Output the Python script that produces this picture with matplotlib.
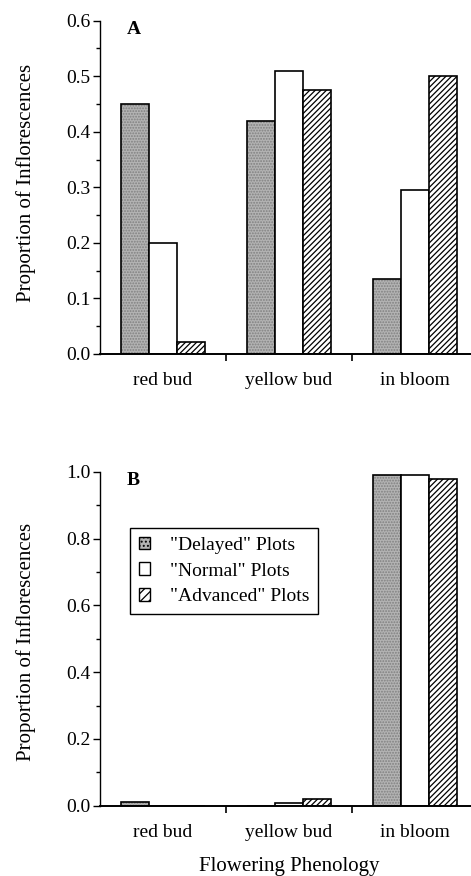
import matplotlib
matplotlib.use("Agg")
import matplotlib.pyplot as plt
import numpy as np
from matplotlib.patches import Patch
from matplotlib.ticker import MultipleLocator, FixedLocator, NullFormatter

plt.rcParams["font.family"] = ["Liberation Serif", "DejaVu Serif"]
plt.rcParams["hatch.linewidth"] = 0.9

categories = ["red bud", "yellow bud", "in bloom"]
series_names = ['"Delayed" Plots', '"Normal" Plots', '"Advanced" Plots']

# panel A
a_delayed = [0.45, 0.42, 0.135]
a_normal = [0.20, 0.51, 0.295]
a_advanced = [0.022, 0.475, 0.50]

# panel B
b_delayed = [0.01, 0.0, 0.99]
b_normal = [0.0, 0.008, 0.99]
b_advanced = [0.0, 0.02, 0.98]

GRAY = "#b3b3b3"
W = 0.22


def draw_group(ax, values, offset, kind):
    x = np.arange(len(categories)) + 0.5 + offset * W
    vals = np.array(values)
    if kind == "delayed":
        ax.bar(x, vals, W, color=GRAY, hatch="......", edgecolor="#808080", linewidth=0)
        ax.bar(x, vals, W, fill=False, edgecolor="black", linewidth=1.2)
    elif kind == "normal":
        ax.bar(x, vals, W, color="white", edgecolor="black", linewidth=1.2)
    else:
        ax.bar(x, vals, W, color="white", hatch="//////", edgecolor="black", linewidth=1.2)


def style_axes(ax, top, major, minor, label, label_y):
    ax.set_xlim(0, 3)
    ax.set_ylim(0, top)
    ax.spines["top"].set_visible(False)
    ax.spines["right"].set_visible(False)
    ax.spines["left"].set_linewidth(1.0)
    ax.spines["bottom"].set_linewidth(1.4)
    ax.yaxis.set_major_locator(MultipleLocator(major))
    ax.yaxis.set_minor_locator(MultipleLocator(minor))
    ax.yaxis.set_major_formatter(plt.FuncFormatter(lambda v, p: f"{v:.1f}"))
    ax.tick_params(axis="y", which="major", length=5, width=1, labelsize=14, pad=2)
    ax.tick_params(axis="y", which="minor", length=3, width=1)
    ax.xaxis.set_major_locator(FixedLocator([1, 2]))
    ax.xaxis.set_major_formatter(NullFormatter())
    ax.xaxis.set_minor_locator(FixedLocator(np.arange(len(categories)) + 0.5))
    ax.set_xticklabels(categories, minor=True)
    ax.tick_params(axis="x", which="major", length=5, width=1.2)
    ax.tick_params(axis="x", which="minor", length=0, labelsize=14, pad=13)
    ax.set_ylabel("Proportion of Inflorescences", fontsize=15)
    ax.yaxis.set_label_coords(-0.168, label_y)
    ax.text(0.07, 1.0, label, transform=ax.transAxes, fontsize=14,
            fontweight="bold", va="top", ha="left")


fig = plt.figure(figsize=(4.71, 8.76), dpi=100)
ax_a = fig.add_axes([0.2123, 0.5959, 0.8025, 0.3805])
ax_b = fig.add_axes([0.2123, 0.0803, 0.8025, 0.381])

draw_group(ax_a, a_delayed, -1, "delayed")
draw_group(ax_a, a_normal, 0, "normal")
draw_group(ax_a, a_advanced, 1, "advanced")
style_axes(ax_a, 0.6, 0.1, 0.05, "A", 0.512)

draw_group(ax_b, b_delayed, -1, "delayed")
draw_group(ax_b, b_normal, 0, "normal")
draw_group(ax_b, b_advanced, 1, "advanced")
style_axes(ax_b, 1.0, 0.2, 0.1, "B", 0.49)
ax_b.set_xlabel("Flowering Phenology", fontsize=15, labelpad=12)

handles = [
    Patch(facecolor=GRAY, hatch="....", edgecolor="black", linewidth=1),
    Patch(facecolor="white", edgecolor="black", linewidth=1),
    Patch(facecolor="white", hatch="////", edgecolor="black", linewidth=1),
]
leg = ax_b.legend(handles, series_names, loc="upper left", bbox_to_anchor=(0.079, 0.832),
                  borderaxespad=0, fontsize=14, handlelength=0.6, handleheight=0.6,
                  handletextpad=1.0, labelspacing=0.45, fancybox=False, framealpha=1,
                  edgecolor="black", borderpad=0.45)
leg.get_frame().set_linewidth(1.0)

fig.savefig("out.png", dpi=100)
